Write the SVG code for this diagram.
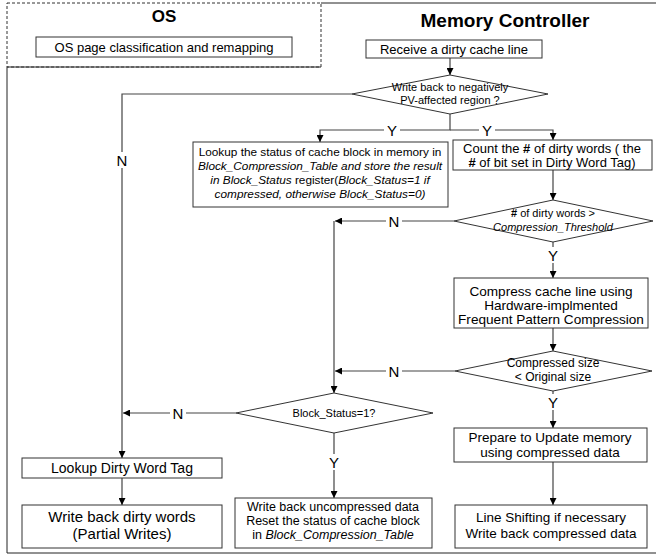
<svg xmlns="http://www.w3.org/2000/svg" width="656" height="556" viewBox="0 0 656 556">
<style>
text{font-family:"Liberation Sans",Arial,sans-serif;fill:#000;text-anchor:middle}
.box{fill:#fff;stroke:#333;stroke-width:1}
.dia{fill:#fff;stroke:#333;stroke-width:1}
.ln{fill:none;stroke:#444;stroke-width:1.2}
.lab{font-size:15px}
.it{font-style:italic}
</style>
<defs>
<marker id="ah" viewBox="0 0 10 10" refX="10" refY="5" markerWidth="7" markerHeight="7" orient="auto" markerUnits="userSpaceOnUse">
<path d="M0,0 L10,5 L0,10 z" fill="#000"/>
</marker>
</defs>
<rect width="656" height="556" fill="#fff"/>
<g id="frame">
<path d="M321,3 L658,3 L658,553 L7,553 L7,67 L321,67" fill="none" stroke="#222" stroke-width="1"/>
<rect x="7" y="3" width="314" height="64" fill="none" stroke="#333" stroke-width="1" stroke-dasharray="3,2"/>
<text x="164" y="22" style="font-size:17px;font-weight:bold">OS</text>
<text x="505" y="27" style="font-size:19px;font-weight:bold">Memory Controller</text>
</g>
<g id="connectors">
<path class="ln" d="M450,58 L450,75" marker-end="url(#ah)"/>
<path class="ln" d="M352,94 L122,94 L122,458" marker-end="url(#ah)"/>
<path class="ln" d="M450,114 L450,130 L320,130 L320,142" marker-end="url(#ah)"/>
<path class="ln" d="M450,130 L553,130 L553,140" marker-end="url(#ah)"/>
<path class="ln" d="M553,170 L553,200" marker-end="url(#ah)"/>
<path class="ln" d="M454,221 L335,221" marker-end="url(#ah)"/>
<path class="ln" d="M334,221 L334,393" marker-end="url(#ah)"/>
<path class="ln" d="M553,242 L553,278" marker-end="url(#ah)"/>
<path class="ln" d="M553,328 L553,351" marker-end="url(#ah)"/>
<path class="ln" d="M455,371 L335,371" marker-end="url(#ah)"/>
<path class="ln" d="M553,391 L553,428" marker-end="url(#ah)"/>
<path class="ln" d="M553,462 L553,505" marker-end="url(#ah)"/>
<path class="ln" d="M236,413 L123,413" marker-end="url(#ah)"/>
<path class="ln" d="M334,433 L334,498" marker-end="url(#ah)"/>
<path class="ln" d="M122,478 L122,505" marker-end="url(#ah)"/>
<rect x="114" y="152" width="16" height="16" fill="#fff"/>
<text class="lab" x="122" y="166">N</text>
<rect x="384" y="122" width="16" height="16" fill="#fff"/>
<text class="lab" x="392" y="136">Y</text>
<rect x="479" y="122" width="16" height="16" fill="#fff"/>
<text class="lab" x="487" y="136">Y</text>
<rect x="386" y="213" width="16" height="16" fill="#fff"/>
<text class="lab" x="394" y="227">N</text>
<rect x="545" y="247" width="16" height="16" fill="#fff"/>
<text class="lab" x="553" y="261">Y</text>
<rect x="386" y="363" width="16" height="16" fill="#fff"/>
<text class="lab" x="394" y="377">N</text>
<rect x="545" y="394" width="16" height="16" fill="#fff"/>
<text class="lab" x="553" y="408">Y</text>
<rect x="170" y="405" width="16" height="16" fill="#fff"/>
<text class="lab" x="178" y="419">N</text>
<rect x="326" y="454" width="16" height="16" fill="#fff"/>
<text class="lab" x="334" y="468">Y</text>
</g>
<g id="os-page">
<rect class="box" x="36" y="37" width="256" height="20"/>
<text x="164" y="52" style="font-size:13px">OS page classification and remapping</text>
</g>
<g id="receive">
<rect class="box" x="366" y="40" width="176" height="18"/>
<text x="454" y="54" style="font-size:13px">Receive a dirty cache line</text>
</g>
<g id="d-pv">
<polygon class="dia" points="450,75 548,94 450,114 352,94"/>
<text x="450" y="91" style="font-size:11px">Write back to negatively</text>
<text x="450" y="104" style="font-size:11px">PV-affected region ?</text>
</g>
<g id="lookup-status">
<rect class="box" x="193" y="142" width="255" height="65"/>
<text x="320" y="156" style="font-size:11.8px">Lookup the status of cache block in memory in</text>
<text x="320" y="170" style="font-size:11.8px" class="it">Block_Compression_Table and store the result</text>
<text x="320" y="184" style="font-size:11.8px"><tspan class="it">in Block_Status</tspan> register(<tspan class="it">Block_Status=1 if</tspan></text>
<text x="320" y="198" style="font-size:11.8px" class="it">compressed, otherwise Block_Status=0)</text>
</g>
<g id="count">
<rect class="box" x="453" y="140" width="199" height="30"/>
<text x="552" y="153" style="font-size:13px">Count the <tspan style="font-weight:bold">#</tspan> of dirty words ( the</text>
<text x="552" y="167" style="font-size:13px"><tspan style="font-weight:bold">#</tspan> of bit set in Dirty Word Tag)</text>
</g>
<g id="d-threshold">
<polygon class="dia" points="553,200 653,221 553,242 454,221"/>
<text x="553" y="217" style="font-size:11px"><tspan style="font-weight:bold">#</tspan> of dirty words  &gt;</text>
<text x="553" y="231" style="font-size:11px" class="it">Compression_Threshold</text>
</g>
<g id="compress">
<rect class="box" x="454" y="278" width="194" height="50"/>
<text x="551" y="296" style="font-size:13.6px">Compress cache line using</text>
<text x="551" y="310" style="font-size:13.6px">Hardware-implmented</text>
<text x="551" y="324" style="font-size:13.6px">Frequent Pattern Compression</text>
</g>
<g id="d-size">
<polygon class="dia" points="553,351 652,371 553,391 455,371"/>
<text x="553" y="367" style="font-size:12px">Compressed size</text>
<text x="553" y="381" style="font-size:12px">&lt; Original size</text>
</g>
<g id="d-status">
<polygon class="dia" points="334,393 433,413 334,433 236,413"/>
<text x="334" y="417" style="font-size:11px">Block_Status=1?</text>
</g>
<g id="prepare">
<rect class="box" x="454" y="428" width="193" height="34"/>
<text x="550" y="442" style="font-size:13.5px">Prepare to Update memory</text>
<text x="550" y="457" style="font-size:13.5px">using compressed data</text>
</g>
<g id="line-shift">
<rect class="box" x="455" y="505" width="192" height="43"/>
<text x="551" y="522" style="font-size:13.5px">Line Shifting if necessary</text>
<text x="551" y="538" style="font-size:13.5px">Write back compressed data</text>
</g>
<g id="lookup-dirty">
<rect class="box" x="22" y="458" width="200" height="20"/>
<text x="122" y="473" style="font-size:14px">Lookup Dirty Word Tag</text>
</g>
<g id="partial">
<rect class="box" x="22" y="505" width="200" height="43"/>
<text x="122" y="522" style="font-size:15px">Write back dirty words</text>
<text x="122" y="539" style="font-size:15px">(Partial Writes)</text>
</g>
<g id="uncompressed">
<rect class="box" x="235" y="498" width="197" height="50"/>
<text x="333" y="511" style="font-size:12.5px">Write back uncompressed data</text>
<text x="333" y="525" style="font-size:12.5px">Reset the status of cache block</text>
<text x="333" y="539" style="font-size:12.5px">in <tspan class="it">Block_Compression_Table</tspan></text>
</g>
</svg>
